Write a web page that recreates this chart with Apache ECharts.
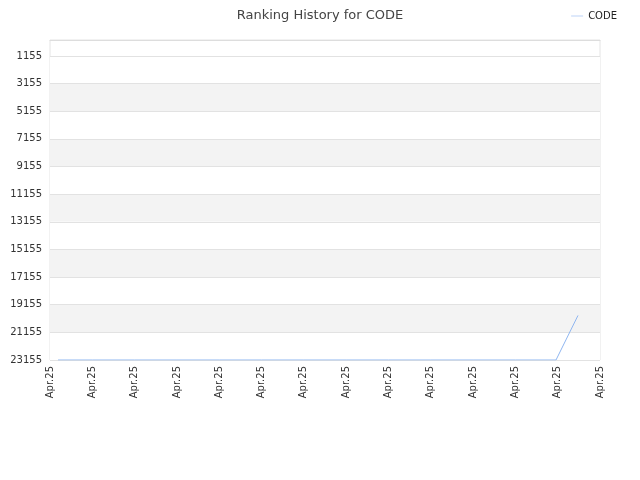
<!DOCTYPE html>
<html><head><meta charset="utf-8">
<script src="https://cdn.jsdelivr.net/npm/echarts@6/dist/echarts.min.js"></script>
<style>html,body{margin:0;padding:0}#c{width:640px;height:480px}</style>
</head><body><div id="c"></div>
<script>
const xPositions = [0.19, 1, 2, 3, 4, 5, 6, 7, 8, 9, 10, 11, 11.96, 12.48];
const ranks = [23155, 23155, 23155, 23155, 23155, 23155, 23155, 23155, 23155, 23155, 23155, 23155, 23155, 19930];
const yTicks = [1155, 3155, 5155, 7155, 9155, 11155, 13155, 15155, 17155, 19155, 21155, 23155];
const xLabel = 'Apr.25';
const chart = echarts.init(document.getElementById('c'));
chart.setOption({
  animation:false,
  title:{text:'Ranking History for CODE',left:'center',top:4,textStyle:{fontSize:13,fontWeight:'normal',color:'#444',fontFamily:'DejaVu Sans'}},
  legend:{data:['CODE'],right:18,top:6,icon:'path://M0,5L20,5L20,6L0,6Z',itemWidth:12,itemHeight:8,textStyle:{fontSize:10,color:'#222',fontFamily:'DejaVu Sans'}},
  grid:{left:50,right:40,top:40,bottom:120,show:true,borderColor:'#e4e4e4',borderWidth:1},
  xAxis:{type:'value',min:0,max:13,interval:1,
    axisLine:{lineStyle:{color:'#ddd'}},axisTick:{show:false},splitLine:{show:false},
    axisLabel:{rotate:90,formatter:()=>xLabel,fontSize:10,color:'#333',fontFamily:'DejaVu Sans',margin:6}},
  yAxis:{type:'value',inverse:true,min:0,max:23155,
    axisLine:{show:false},axisTick:{show:false,customValues:yTicks},
    axisLabel:{customValues:yTicks,formatter:v=>String(v),fontSize:10,color:'#333',fontFamily:'DejaVu Sans'},
    splitLine:{lineStyle:{color:'#e2e2e2'}},
    splitArea:{show:true,areaStyle:{color:['#ffffff','#f3f3f3']}}},
  series:[{name:'CODE',type:'line',showSymbol:false,lineStyle:{width:1,color:'#8fb6f0'},itemStyle:{color:'#8fb6f0'},
    data:xPositions.map((x,i)=>[x,ranks[i]])}]
});
</script></body></html>
